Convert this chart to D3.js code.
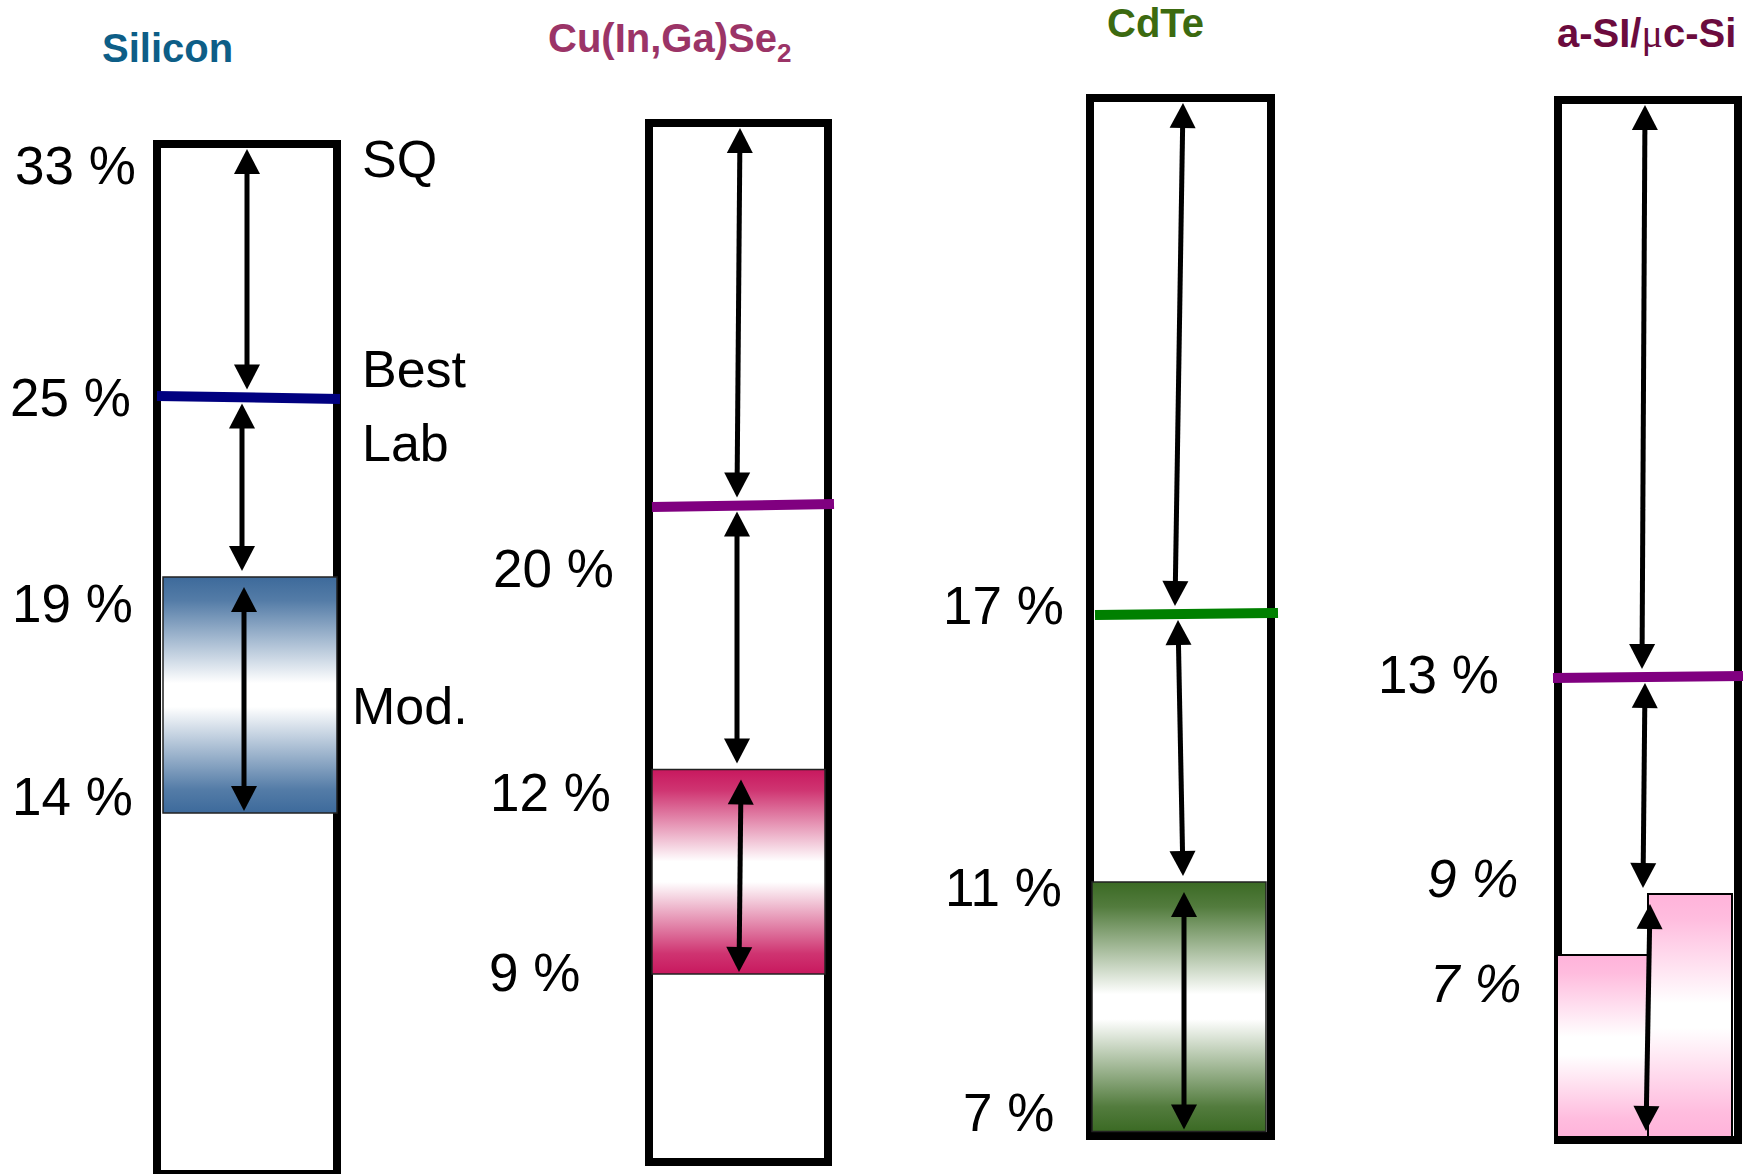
<!DOCTYPE html>
<html>
<head>
<meta charset="utf-8">
<script src="https://cdn.jsdelivr.net/npm/d3@7"></script>
<style>
  html, body { margin: 0; padding: 0; background: #fff; }
  svg { display: block; }
  text { font-family: "Liberation Sans", Arial, sans-serif; }
</style>
</head>
<body>
<svg id="chart" width="1746" height="1174"></svg>
<script>
// ---- Efficiency levels (%) per thin-film / wafer technology ----
const categories = ["Silicon", "CIGS", "CdTe", "aSi"];
const sqLimit    = [33, null, null, null];   // Shockley–Queisser limit (labelled for Silicon only)
const bestLab    = [25, 20, 17, 13];         // best laboratory cell
const moduleHigh = [19, 12, 11, 9];          // module efficiency, upper end
const moduleLow  = [14, 9, 7, 7];            // module efficiency, lower end
const sideLabels = ["SQ", "Best", "Lab", "Mod."];

// ---- Layout: column frames and the vertical position of each level ----
const W = 1746, H = 1174;
const frames = [
  { x0: 157,  x1: 337,  top: 144, bottom: 1174, levels: [144, 397.5, 577, 813] },
  { x0: 649,  x1: 828,  top: 123, bottom: 1162, levels: [505.5, 769.5, 974] },
  { x0: 1090, x1: 1271, top: 98,  bottom: 1136, levels: [614, 882, 1131.5] },
  { x0: 1558, x1: 1738, top: 100, bottom: 1140, levels: [677, 894, 955] }
];
const moduleStyle = ["band", "band", "band", "split"];
const moduleInset = [[6, 0], [3, -3], [2, -5], [-1, -6]];   // left / right edge offsets of the module block
const lineExtent  = [[0, 3], [3, 6], [5, 7], [-5, 5]];      // left / right edge offsets of the record line
const lineTilt = [3, -3, -2, -2];            // right end minus left end of the record line
// arrow x offsets from the frame centre: [top arrow, middle arrow, module arrow] x [start, end]
const arrowShift = [
  [[0, 0], [-5, -5], [-3, -3]],
  [[1.5, -1.5], [-1.5, -1.5], [2.5, 0.5]],
  [[2.5, -5.5], [-2.5, 2.5], [3.5, 3.5]],
  [[-3, -6], [-3, -5], [2, -2]]
];
// value labels: [x, dy from level, italic]
const labelPlace = [
  [[15, 40, false], [10, 18, false], [12, 45, false], [12, 2, false]],
  [[493, 81, false], [490, 41, false], [489, 17, false]],
  [[943, 10, false], [945, 24, false], [963, -1, false]],
  [[1378, 16, false], [1427, 3, true], [1430, 47, true]]
];
const titles = [
  { x: 102,  y: 62, color: "#0d5e87" },
  { x: 548,  y: 52, color: "#9b3467" },
  { x: 1107, y: 37, color: "#3c6a10" },
  { x: 1557, y: 47, color: "#6b0b3e" }
];
const lineColor = ["#000080", "#800080", "#008000", "#800080"];
const moduleColor = ["#3d6a9b", "#c8185e", "#3b6a24", "#ffb3da"];

const svg = d3.select("#chart");
svg.append("rect").attr("width", W).attr("height", H).attr("fill", "#fff");

const defs = svg.append("defs");
moduleColor.forEach((c, i) => {
  const g = defs.append("linearGradient")
    .attr("id", "grad" + i).attr("x1", 0).attr("y1", 0).attr("x2", 0).attr("y2", 1);
  [[0, c], [0.1, c], [0.45, "#ffffff"], [0.55, "#ffffff"], [0.9, c], [1, c]].forEach(([o, col], k) => {
    const mix = (k === 1 || k === 4) ? d3.interpolateRgb(c, "#ffffff")(0.12) : col;
    g.append("stop").attr("offset", o).attr("stop-color", mix);
  });
});

// double-headed arrow with tips at (xa,ya) and (xb,yb)
function arrow(g, xa, ya, xb, yb) {
  const dx = xb - xa, dy = yb - ya, L = Math.hypot(dx, dy);
  const ux = dx / L, uy = dy / L, px = -uy, py = ux;
  const hl = 25, hw = 13;
  g.append("line")
    .attr("x1", xa + ux * hl * 0.7).attr("y1", ya + uy * hl * 0.7)
    .attr("x2", xb - ux * hl * 0.7).attr("y2", yb - uy * hl * 0.7)
    .attr("stroke", "#000").attr("stroke-width", 5);
  const head = (tx, ty, s) => [
    [tx, ty],
    [tx + s * ux * hl + px * hw, ty + s * uy * hl + py * hw],
    [tx + s * ux * hl - px * hw, ty + s * uy * hl - py * hw]
  ];
  [head(xa, ya, 1), head(xb, yb, -1)].forEach(pts => {
    g.append("path").attr("d", d3.line()(pts) + "Z").attr("fill", "#000");
  });
}

categories.forEach((cat, i) => {
  const f = frames[i];
  const values = [sqLimit[i], bestLab[i], moduleHigh[i], moduleLow[i]].filter(v => v != null);
  const y = d3.scaleLinear().domain(values).range(f.levels);
  const cx = (f.x0 + f.x1) / 2;
  const g = svg.append("g").attr("class", "col-" + cat);

  // frame
  g.append("rect")
    .attr("x", f.x0).attr("y", f.top)
    .attr("width", f.x1 - f.x0).attr("height", f.bottom - f.top)
    .attr("fill", "#fff").attr("stroke", "#000").attr("stroke-width", 8);

  // module range
  const innerBottom = f.bottom - 3;
  const [mL, mR] = moduleInset[i];
  if (moduleStyle[i] === "band") {
    g.append("rect")
      .attr("x", f.x0 + mL).attr("y", y(moduleHigh[i]))
      .attr("width", (f.x1 + mR) - (f.x0 + mL))
      .attr("height", y(moduleLow[i]) - y(moduleHigh[i]))
      .attr("fill", `url(#grad${i})`).attr("stroke", "#222").attr("stroke-width", 1.5);
  } else {
    const mid = f.x0 + (f.x1 - f.x0) / 2;
    g.append("rect")
      .attr("x", f.x0 + mL).attr("y", y(moduleLow[i]))
      .attr("width", mid - (f.x0 + mL)).attr("height", innerBottom - y(moduleLow[i]))
      .attr("fill", `url(#grad${i})`).attr("stroke", "#000").attr("stroke-width", 2);
    g.append("rect")
      .attr("x", mid).attr("y", y(moduleHigh[i]))
      .attr("width", (f.x1 + mR) - mid).attr("height", innerBottom - y(moduleHigh[i]))
      .attr("fill", `url(#grad${i})`).attr("stroke", "#000").attr("stroke-width", 2);
  }

  // best lab record line
  const yb = y(bestLab[i]);
  g.append("line")
    .attr("x1", f.x0 + lineExtent[i][0]).attr("y1", yb - lineTilt[i] / 2)
    .attr("x2", f.x1 + lineExtent[i][1]).attr("y2", yb + lineTilt[i] / 2)
    .attr("stroke", lineColor[i]).attr("stroke-width", 10);

  // gap arrows
  const s = arrowShift[i];
  const modTop = y(moduleHigh[i]);
  const modBottom = moduleStyle[i] === "band" ? y(moduleLow[i]) - 2 : innerBottom - 6;
  arrow(g, cx + s[0][0], f.top + 5, cx + s[0][1], yb - 8);
  arrow(g, cx + s[1][0], yb + 6, cx + s[1][1], modTop - 6);
  arrow(g, cx + s[2][0], modTop + 10, cx + s[2][1], modBottom);

  // value labels
  values.forEach((v, k) => {
    const [lx, dy, it] = labelPlace[i][k];
    g.append("text")
      .attr("x", lx).attr("y", y(v) + dy)
      .attr("font-size", 53).attr("fill", "#000")
      .attr("font-style", it ? "italic" : "normal")
      .text(`${v} %`);
  });

  // column title
  const t = svg.append("text")
    .attr("x", titles[i].x).attr("y", titles[i].y)
    .attr("font-size", 40).attr("font-weight", "bold").attr("fill", titles[i].color);
  if (cat === "CIGS") {
    t.append("tspan").text("Cu(In,Ga)Se");
    t.append("tspan").attr("font-size", 26).attr("dy", 10).text("2");
  } else if (cat === "aSi") {
    t.append("tspan").text("a-SI/");
    t.append("tspan").attr("font-family", "'Liberation Serif', serif").attr("font-weight", "normal").text("μ");
    t.append("tspan").text("c-Si");
  } else {
    t.text(cat);
  }

  // side annotations for the first column
  if (i === 0) {
    const side = [
      [sideLabels[0], 362, y(sqLimit[0]) + 33],
      [sideLabels[1], 362, y(bestLab[0]) - 11],
      [sideLabels[2], 362, y(bestLab[0]) + 63],
      [sideLabels[3], 352, (y(moduleHigh[0]) + y(moduleLow[0])) / 2 + 29]
    ];
    side.forEach(([txt, sx, sy]) => {
      svg.append("text").attr("x", sx).attr("y", sy)
        .attr("font-size", 52).attr("fill", "#000").text(txt);
    });
  }
});
</script>
</body>
</html>
